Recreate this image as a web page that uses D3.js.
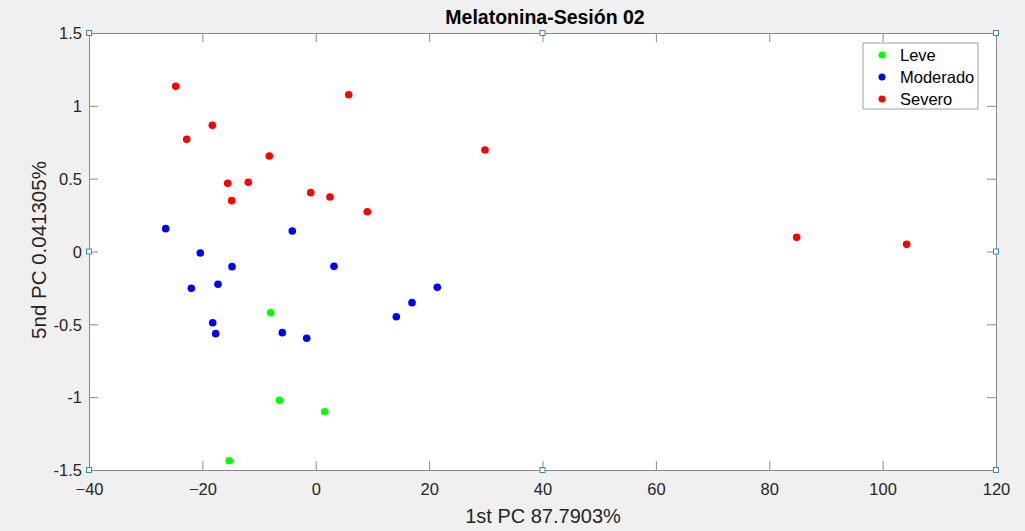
<!DOCTYPE html>
<html>
<head>
<meta charset="utf-8">
<script src="https://cdn.jsdelivr.net/npm/d3@7"></script>
<style>
  html, body { margin: 0; padding: 0; background: #f0f0f0; }
  svg { display: block; font-family: "Liberation Sans", Arial, sans-serif; }
</style>
</head>
<body>
<div id="chart"></div>
<script>
// Data
const xTicks = [-40, -20, 0, 20, 40, 60, 80, 100, 120];
const yTicks = [-1.5, -1, -0.5, 0, 0.5, 1, 1.5];
const categories = ["Leve", "Moderado", "Severo"];
const colors = ["#00ff00", "#0000ff", "#ff0000"];

const leve = [
    [-7.95, -0.420], [-6.43, -1.021], [1.58, -1.100], [-15.25, -1.436]
];
const moderado = [
    [-26.47, 0.157], [-4.14, 0.141], [-20.37, -0.010], [-14.77, -0.104],
    [3.22, -0.102], [-21.95, -0.253], [-17.24, -0.225], [-18.18, -0.489],
    [-17.65, -0.564], [-5.90, -0.557], [-1.60, -0.596], [14.21, -0.448],
    [16.98, -0.351], [21.44, -0.246]
];
const severo = [
    [-24.71, 1.134], [-22.77, 0.770], [-18.25, 0.866], [-15.53, 0.468],
    [-14.83, 0.349], [-11.90, 0.475], [-8.20, 0.656], [-0.89, 0.404],
    [2.51, 0.374], [5.81, 1.076], [9.09, 0.273], [29.85, 0.697],
    [84.84, 0.097], [104.24, 0.049]
];
const series = [leve, moderado, severo];

const W = 1025, H = 531;
const m = { left: 89, right: 996, top: 33, bottom: 470 };

const svg = d3.select("#chart").append("svg")
    .attr("width", W)
    .attr("height", H);

svg.append("rect").attr("width", W).attr("height", H).attr("fill", "#f0f0f0");

const x = d3.scaleLinear().domain([-40, 120]).range([m.left, m.right]);
const y = d3.scaleLinear().domain([-1.5, 1.5]).range([m.bottom, m.top]);

// plot area
svg.append("rect")
    .attr("x", m.left).attr("y", m.top)
    .attr("width", m.right - m.left).attr("height", m.bottom - m.top)
    .attr("fill", "#ffffff");

const axisColor = "#262626";
const tickLen = 9;

// axes with inward ticks on all four sides
const gx = svg.append("g").attr("transform", `translate(0,${m.bottom})`)
    .call(d3.axisBottom(x).tickValues(xTicks).tickSize(-tickLen).tickPadding(13).tickFormat(d3.format("d")));
const gxTop = svg.append("g").attr("transform", `translate(0,${m.top})`)
    .call(d3.axisTop(x).tickValues(xTicks).tickSize(-tickLen).tickFormat(""));
const gy = svg.append("g").attr("transform", `translate(${m.left},0)`)
    .call(d3.axisLeft(y).tickValues(yTicks).tickSize(-tickLen).tickPadding(7).tickFormat(d => d));
const gyRight = svg.append("g").attr("transform", `translate(${m.right},0)`)
    .call(d3.axisRight(y).tickValues(yTicks).tickSize(-tickLen).tickFormat(""));

[gx, gxTop, gy, gyRight].forEach(g => {
    g.select(".domain").attr("stroke", "#8a8a8a").attr("stroke-width", 1);
    g.selectAll(".tick line").attr("stroke", "#8a8a8a").attr("stroke-width", 1);
    g.selectAll(".tick text")
        .attr("fill", axisColor)
        .style("font-size", "16.5px")
        .style("font-family", "'Liberation Sans', Arial, sans-serif");
});
gy.selectAll(".tick text").attr("dy", "0.35em");

// points
series.forEach((s, i) => {
    svg.append("g").selectAll("circle")
        .data(s)
        .join("circle")
        .attr("cx", d => x(d[0]))
        .attr("cy", d => y(d[1]))
        .attr("r", 3.8)
        .attr("fill", colors[i]);
});

// title and labels
svg.append("text")
    .attr("x", 545).attr("y", 24)
    .attr("text-anchor", "middle")
    .attr("font-weight", "bold")
    .attr("font-size", 19.5)
    .attr("fill", "#000")
    .text("Melatonina-Sesión 02");

svg.append("text")
    .attr("x", 543).attr("y", 523)
    .attr("text-anchor", "middle")
    .attr("font-size", 20)
    .attr("fill", axisColor)
    .text("1st PC 87.7903%");

svg.append("text")
    .attr("transform", `translate(46,250) rotate(-90)`)
    .attr("text-anchor", "middle")
    .attr("font-size", 20.5)
    .attr("fill", axisColor)
    .text("5nd PC 0.041305%");

// legend
const lg = svg.append("g").attr("transform", "translate(863,43)");
lg.append("rect")
    .attr("width", 115).attr("height", 66)
    .attr("fill", "#fff")
    .attr("stroke", "#a0a0a0");
categories.forEach((c, i) => {
    const row = lg.append("g").attr("transform", `translate(0,${12 + i * 22})`);
    row.append("circle").attr("cx", 19).attr("cy", 0).attr("r", 3.5).attr("fill", colors[i]);
    row.append("text")
        .attr("x", 37).attr("y", 0).attr("dy", "0.35em")
        .attr("font-size", 16.5)
        .attr("fill", "#000")
        .text(c);
});

// selection handles on the axes box
const hx = [m.left, (m.left + m.right) / 2, m.right];
const hy = [m.top, (m.top + m.bottom) / 2, m.bottom];
const handles = [];
hx.forEach((px, i) => hy.forEach((py, j) => {
    if (!(i === 1 && j === 1)) handles.push([px, py]);
}));
svg.append("g").selectAll("rect")
    .data(handles)
    .join("rect")
    .attr("x", d => d[0] - 2.5).attr("y", d => d[1] - 2.5)
    .attr("width", 5).attr("height", 5)
    .attr("fill", "#fff")
    .attr("stroke", "#3a86c8")
    .attr("stroke-width", 1);
</script>
</body>
</html>
